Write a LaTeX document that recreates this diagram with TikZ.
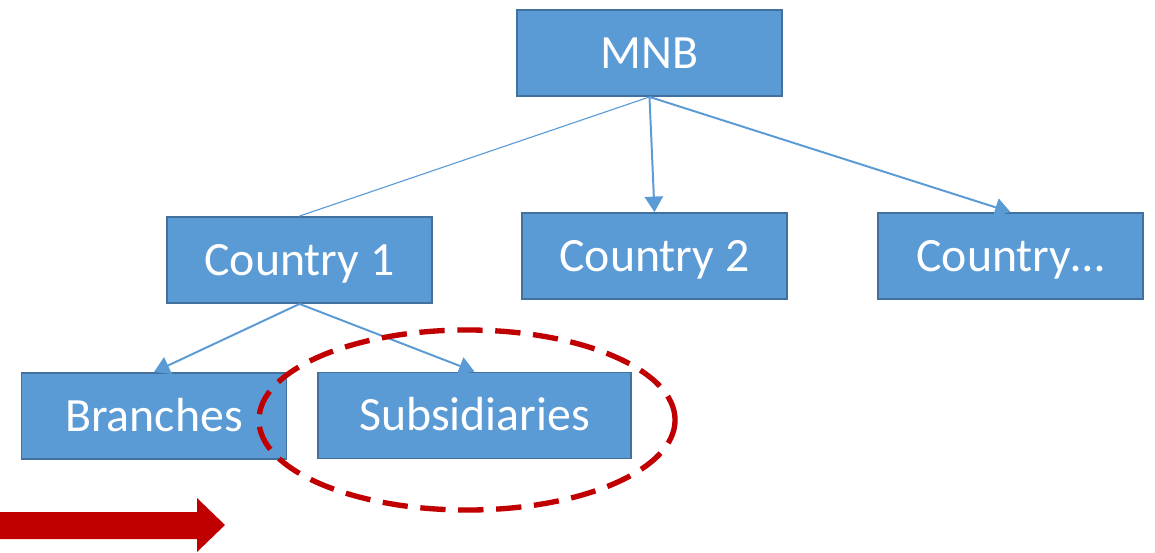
\documentclass[tikz,border=0pt]{standalone}
\usepackage{fontspec}
\setmainfont{Carlito}
\usetikzlibrary{arrows.meta,shapes.geometric}
\definecolor{boxblue}{HTML}{5B9BD5}
\definecolor{boxedge}{HTML}{41719C}
\definecolor{darkred}{HTML}{C00000}

\begin{document}
\begin{tikzpicture}[
                x=0.025cm, y=-0.025cm,
                orgnode/.style = {rectangle, draw=boxedge, line width=1.3pt, fill=boxblue, text=white,
                        minimum width=6.625cm, minimum height=2.15cm, inner sep=0pt,
                        text height=22pt, text depth=0pt,
                        font=\fontsize{34}{40}\selectfont},
                link/.style = {draw=boxblue, line width=1.4pt, -{Triangle[length=11pt, width=13pt]}}
        ]
        \useasboundingbox (0,0) rectangle (1155,552);
        % top level
        \node[orgnode] (mnb) at (649.5,53) {MNB};
        % countries
        \node[orgnode] (country1) at (299.5,260) {Country 1};
        \node[orgnode] (country2) at (654.5,256) {Country 2};
        \node[orgnode] (countryn) at (1010.5,256) {Country\dots};
        % entities below country 1
        \node[orgnode] (branches) at (154,416) {Branches};
        \node[orgnode, minimum width=7.825cm] (subsid) at (474.5,415.5) {Subsidiaries};

        \draw[draw=boxblue, line width=0.8pt] (mnb.south) -- (country1.north);
        \draw[link] (mnb.south) -- (country2.north);
        \draw[link] (mnb.south) -- (countryn.north);
        \draw[link] (country1.south) -- (branches.north);
        \draw[link] (country1.south) -- (subsid.north);

        % highlight
        \node[ellipse, draw=darkred, line width=3.8pt, dash pattern=on 18pt off 9pt,
                minimum width=10.4cm, minimum height=4.5cm, inner sep=0pt] (focus) at (467,420) {};
        \fill[darkred] (0,512) -- (197,512) -- (197,498) -- (225,525) -- (197,552)
                -- (197,539) -- (0,539) -- cycle;
\end{tikzpicture}
\end{document}
